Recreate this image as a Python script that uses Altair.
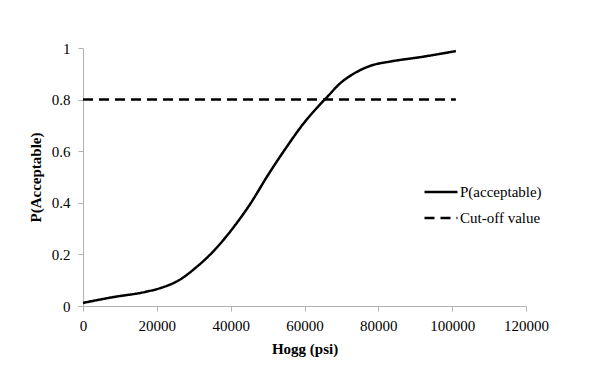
import altair as alt
import pandas as pd

# Curve
hogg = [0, 8000, 17000, 21500, 26000, 30500, 35500, 40500, 45500, 50000,
        55000, 59500, 64000, 66000, 69500, 74000, 78500, 83000, 92000, 101000]
p_acc = [0.012, 0.034, 0.055, 0.072, 0.10, 0.148, 0.215, 0.30, 0.40, 0.505,
         0.613, 0.703, 0.778, 0.808, 0.861, 0.906, 0.934, 0.947, 0.966, 0.988]

cut_x = [0, 101000]
cut_y = [0.8, 0.8]

series = ["P(acceptable)", "Cut-off value"]
x_ticks = [0, 20000, 40000, 60000, 80000, 100000, 120000]
y_ticks = [0, 0.2, 0.4, 0.6, 0.8, 1]

rows = [{"x": a, "y": b, "series": series[0]} for a, b in zip(hogg, p_acc)]
rows += [{"x": a, "y": b, "series": series[1]} for a, b in zip(cut_x, cut_y)]
df = pd.DataFrame(rows)

FONT = "Liberation Serif"
GRAY = "#B3B3B3"

chart = alt.Chart(df).mark_line(
    color="black", strokeWidth=2.5, interpolate="monotone"
).encode(
    x=alt.X("x:Q",
            scale=alt.Scale(domain=[0, 120000], nice=False),
            axis=alt.Axis(title="Hogg (psi)", values=x_ticks, format="d",
                          tickSize=5, labelPadding=7, titlePadding=8,
                          labelFlush=False, labelOverlap=False)),
    y=alt.Y("y:Q",
            scale=alt.Scale(domain=[0, 1], nice=False),
            axis=alt.Axis(title="P(Acceptable)", values=y_ticks, format="~g",
                          tickSize=5, labelPadding=8, titlePadding=8,
                          labelFlush=False, labelOverlap=False)),
    strokeDash=alt.StrokeDash(
        "series:N",
        scale=alt.Scale(domain=series, range=[[1, 0], [10, 6]]),
        legend=alt.Legend(title=None, orient="none", legendX=340, legendY=126,
                          symbolType="stroke", symbolSize=1089,
                          symbolStrokeWidth=2.5, symbolStrokeColor="black",
                          labelFont=FONT, labelFontSize=15, labelColor="black",
                          labelOffset=1, rowPadding=-7, padding=0)),
).properties(
    width=443, height=258,
    autosize=alt.AutoSizeParams(type="none"),
    padding={"left": 75, "top": 40, "right": 56, "bottom": 54},
).configure_view(
    stroke=None
).configure_axis(
    grid=False,
    domainColor=GRAY, tickColor=GRAY, domainWidth=1, tickWidth=1,
    labelFont=FONT, labelFontSize=15, labelColor="black",
    titleFont=FONT, titleFontSize=15, titleFontWeight="bold", titleColor="black",
)

chart.save("out.html", embed_options={"renderer": "svg", "actions": False})
